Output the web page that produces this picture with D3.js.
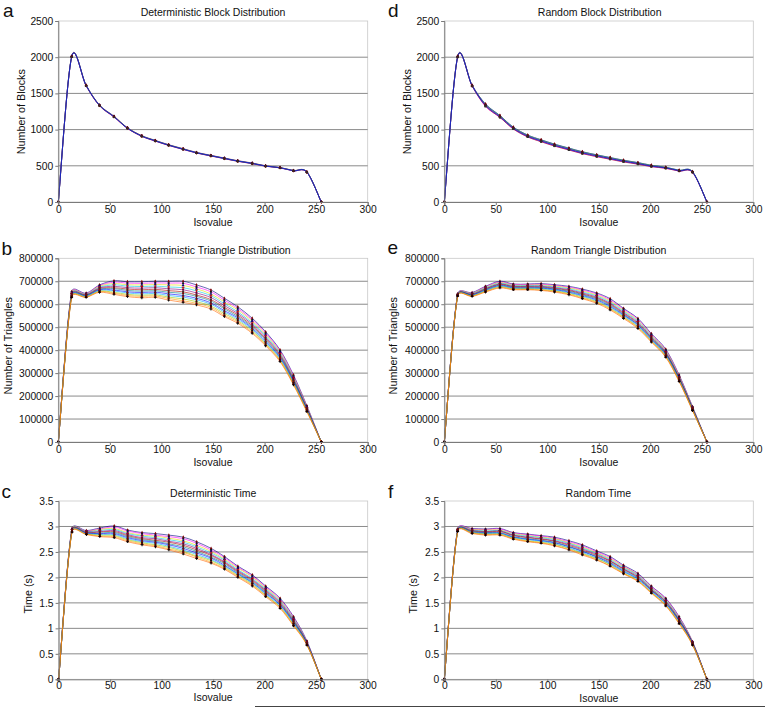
<!DOCTYPE html>
<html><head><meta charset="utf-8">
<script src="https://cdn.jsdelivr.net/npm/d3@7"></script>
<style>body{margin:0;background:#fff} svg text{font-family:"Liberation Sans",Arial,Helvetica,sans-serif;fill:#111}</style>
</head><body><svg id="chart" width="765" height="708"></svg>
<script>
// ---------------- data ----------------
const isovalues = [0,13,27,40,54,67,81,94,107,121,134,148,161,174,188,201,215,228,241,255];

const blockDet = [
 [0,2010,1610,1335,1180,1022,912,847,787,732,681,640,603,566,534,497,474,433,414,0],
 [0,2005,1605,1330,1175,1018,908,843,783,728,678,637,600,563,531,495,472,431,412,0],
 [0,2012,1613,1338,1184,1025,915,850,790,735,684,643,606,569,537,500,476,435,416,0],
 [0,2008,1608,1332,1178,1020,910,845,785,730,679,638,601,564,532,496,473,432,413,0],
 [0,2015,1615,1340,1186,1027,917,852,792,737,686,645,608,571,539,501,477,436,417,0],
 [0,2003,1603,1328,1173,1016,906,841,781,726,676,635,598,561,529,493,471,430,411,0],
 [0,2009,1611,1336,1182,1023,913,848,788,733,682,641,604,567,535,498,475,434,415,0],
 [0,2006,1607,1333,1177,1019,909,844,784,729,680,639,602,565,533,496,473,432,413,0]
];
const blockRand = [
 [0,2015,1615,1355,1195,1035,925,860,800,745,695,652,615,578,545,508,480,440,420,0],
 [0,2000,1600,1320,1170,1010,900,835,775,720,670,628,592,556,525,490,466,428,410,0],
 [0,2010,1610,1345,1188,1028,918,852,792,738,688,646,608,572,540,503,477,436,417,0],
 [0,2005,1605,1330,1175,1015,905,840,780,725,675,634,597,560,529,493,470,430,412,0],
 [0,2012,1612,1340,1182,1022,912,847,787,732,682,640,603,566,534,498,474,434,415,0],
 [0,2003,1602,1325,1168,1008,898,832,772,718,668,626,590,553,522,488,465,427,409,0],
 [0,2008,1608,1350,1192,1032,922,857,797,742,692,650,612,575,542,506,479,438,419,0],
 [0,2006,1606,1335,1178,1018,908,843,783,728,678,637,600,563,531,495,472,432,413,0]
];
const triDet = [
 [0,655000,648000,684000,702000,698000,698000,700000,700000,700000,684000,662000,626000,589000,539000,480000,401000,292000,158000,0],
 [0,652000,646000,681000,696000,692000,691000,693000,692000,691000,675000,654000,618000,582000,532000,474000,396000,288000,155000,0],
 [0,650000,644000,678000,690000,685000,684000,686000,684000,682000,667000,645000,610000,575000,526000,468000,391000,283000,153000,0],
 [0,647000,643000,674000,684000,679000,677000,679000,675000,672000,658000,637000,602000,567000,519000,462000,386000,279000,150000,0],
 [0,645000,641000,671000,678000,672000,670000,672000,667000,663000,649000,629000,594000,560000,513000,456000,381000,275000,148000,0],
 [0,642000,639000,668000,672000,666000,663000,665000,659000,654000,640000,620000,586000,553000,506000,450000,376000,270000,145000,0],
 [0,640000,638000,665000,668000,660000,657000,659000,652000,647000,634000,614000,580000,547000,501000,445000,371000,267000,143000,0],
 [0,638000,636000,663000,662000,654000,651000,653000,645000,638000,626000,606000,572000,541000,495000,439000,367000,263000,141000,0],
 [0,636000,635000,660000,658000,649000,645000,647000,638000,631000,619000,600000,566000,535000,490000,434000,363000,260000,139000,0],
 [0,634000,633000,657000,652000,643000,639000,641000,631000,623000,611000,592000,559000,529000,484000,429000,358000,256000,136000,0],
 [0,632000,631000,655000,648000,638000,634000,636000,625000,615000,604000,586000,552000,523000,478000,424000,354000,252000,134000,0],
 [0,630000,630000,652000,643000,633000,628000,630000,618000,608000,597000,579000,546000,517000,473000,419000,350000,249000,132000,0]
];
const triRand = [
 [0,645000,651000,678000,700000,688000,688000,690000,685000,678000,666000,649000,624000,582000,538000,472000,404000,292000,154000,0],
 [0,644000,649000,676000,697000,686000,686000,687000,682000,674000,662000,645000,619000,578000,534000,468000,400000,289000,152000,0],
 [0,643000,648000,673000,694000,683000,683000,684000,679000,671000,658000,640000,614000,573000,529000,465000,397000,286000,151000,0],
 [0,642000,646000,671000,691000,681000,681000,681000,675000,667000,653000,636000,609000,569000,525000,461000,393000,283000,149000,0],
 [0,641000,644000,668000,688000,678000,678000,678000,672000,663000,649000,631000,604000,564000,520000,457000,390000,280000,147000,0],
 [0,640000,642000,666000,686000,676000,676000,675000,669000,660000,645000,627000,600000,560000,516000,454000,387000,278000,146000,0],
 [0,640000,641000,664000,683000,674000,674000,673000,666000,657000,642000,623000,596000,556000,512000,451000,384000,275000,144000,0],
 [0,639000,640000,661000,681000,671000,671000,670000,664000,653000,638000,619000,591000,553000,509000,447000,381000,273000,143000,0],
 [0,638000,638000,659000,678000,669000,669000,668000,661000,650000,635000,615000,587000,549000,505000,444000,378000,270000,141000,0],
 [0,637000,637000,657000,676000,667000,667000,665000,658000,647000,631000,611000,583000,545000,501000,441000,375000,268000,140000,0],
 [0,637000,635000,655000,673000,665000,665000,662000,656000,644000,627000,608000,579000,542000,498000,438000,372000,265000,138000,0],
 [0,636000,634000,653000,671000,663000,663000,660000,653000,641000,624000,604000,575000,538000,494000,435000,369000,263000,137000,0]
];
const timeDet = [
 [0,2.96,2.92,2.97,3.01,2.93,2.88,2.86,2.83,2.79,2.70,2.57,2.41,2.22,2.05,1.83,1.59,1.23,0.75,0],
 [0,2.95,2.91,2.95,2.99,2.91,2.86,2.83,2.80,2.76,2.67,2.54,2.39,2.20,2.03,1.81,1.57,1.21,0.74,0],
 [0,2.95,2.90,2.94,2.96,2.88,2.83,2.81,2.77,2.72,2.63,2.51,2.36,2.18,2.01,1.79,1.55,1.19,0.73,0],
 [0,2.94,2.90,2.92,2.94,2.86,2.81,2.78,2.74,2.69,2.60,2.48,2.34,2.15,1.98,1.77,1.53,1.18,0.73,0],
 [0,2.93,2.89,2.90,2.92,2.84,2.78,2.76,2.71,2.66,2.57,2.45,2.31,2.13,1.96,1.75,1.51,1.16,0.72,0],
 [0,2.93,2.88,2.89,2.90,2.82,2.76,2.73,2.69,2.63,2.54,2.43,2.29,2.11,1.94,1.73,1.49,1.14,0.71,0],
 [0,2.92,2.87,2.87,2.88,2.80,2.74,2.71,2.66,2.60,2.51,2.40,2.27,2.09,1.92,1.71,1.47,1.13,0.70,0],
 [0,2.91,2.87,2.86,2.86,2.78,2.72,2.69,2.64,2.57,2.48,2.38,2.24,2.07,1.90,1.69,1.46,1.11,0.70,0],
 [0,2.91,2.86,2.84,2.84,2.76,2.70,2.67,2.61,2.54,2.45,2.35,2.22,2.06,1.89,1.67,1.44,1.10,0.69,0],
 [0,2.90,2.85,2.83,2.82,2.74,2.68,2.64,2.59,2.51,2.42,2.33,2.20,2.04,1.87,1.65,1.42,1.08,0.68,0],
 [0,2.90,2.85,2.81,2.80,2.72,2.66,2.62,2.56,2.49,2.40,2.30,2.18,2.02,1.85,1.64,1.41,1.06,0.68,0],
 [0,2.89,2.84,2.80,2.78,2.70,2.64,2.60,2.54,2.46,2.37,2.28,2.16,2.00,1.83,1.62,1.39,1.05,0.67,0]
];
const timeRand = [
 [0,2.95,2.96,2.95,2.96,2.88,2.85,2.82,2.79,2.72,2.64,2.52,2.41,2.24,2.08,1.83,1.59,1.23,0.74,0],
 [0,2.95,2.95,2.94,2.95,2.87,2.84,2.81,2.77,2.70,2.62,2.50,2.39,2.22,2.06,1.82,1.58,1.22,0.73,0],
 [0,2.94,2.94,2.93,2.93,2.86,2.82,2.79,2.76,2.68,2.60,2.48,2.37,2.21,2.05,1.80,1.56,1.20,0.73,0],
 [0,2.94,2.93,2.91,2.92,2.84,2.81,2.78,2.74,2.67,2.58,2.47,2.35,2.19,2.04,1.79,1.55,1.19,0.72,0],
 [0,2.93,2.92,2.90,2.91,2.83,2.79,2.76,2.72,2.65,2.56,2.45,2.33,2.17,2.02,1.77,1.53,1.17,0.72,0],
 [0,2.93,2.91,2.89,2.90,2.82,2.78,2.75,2.71,2.63,2.54,2.43,2.32,2.16,2.00,1.76,1.52,1.16,0.71,0],
 [0,2.92,2.90,2.88,2.88,2.80,2.76,2.73,2.69,2.61,2.52,2.41,2.30,2.14,1.99,1.75,1.50,1.15,0.70,0],
 [0,2.92,2.89,2.87,2.87,2.79,2.75,2.72,2.68,2.60,2.51,2.40,2.28,2.12,1.97,1.74,1.49,1.14,0.70,0],
 [0,2.92,2.88,2.86,2.86,2.78,2.74,2.71,2.66,2.58,2.49,2.38,2.26,2.11,1.96,1.72,1.48,1.12,0.69,0],
 [0,2.91,2.88,2.85,2.85,2.77,2.72,2.69,2.65,2.57,2.47,2.37,2.25,2.09,1.94,1.71,1.46,1.11,0.68,0],
 [0,2.91,2.87,2.84,2.84,2.76,2.71,2.68,2.63,2.55,2.46,2.35,2.23,2.08,1.93,1.70,1.45,1.10,0.68,0],
 [0,2.90,2.86,2.83,2.83,2.75,2.70,2.67,2.62,2.54,2.44,2.34,2.22,2.07,1.92,1.69,1.44,1.09,0.67,0]
];

const xTicks = [0,50,100,150,200,250,300];
const blockTicks = [0,500,1000,1500,2000,2500];
const triTicks = [0,100000,200000,300000,400000,500000,600000,700000,800000];
const timeTicks = [0,0.5,1,1.5,2,2.5,3,3.5];

const panelLetters = ["a","b","c","d","e","f"];
const panelTitles = ["Deterministic Block Distribution","Deterministic Triangle Distribution","Deterministic Time",
                     "Random Block Distribution","Random Triangle Distribution","Random Time"];
const yTitles = ["Number of Blocks","Number of Triangles","Time (s)","Number of Blocks","Number of Triangles","Time (s)"];
const xTitle = "Isovalue";

// ---------------- styling / layout ----------------
const lineColors = ["#000080","#ff00ff","#e8d800","#00c8e0","#800080","#b00000","#008080","#0000ff",
                    "#00a8ff","#99cc00","#ff9900","#ff6600","#666699","#cc3366","#339966","#000000"];
const markerColors = ["#800000","#1a1a1a","#000080","#c00000","#660033","#333333","#800000","#2a2a2a",
                      "#900000","#111111","#800000","#000000"];
const symbols = [d3.symbolDiamond,d3.symbolSquare,d3.symbolTriangle,d3.symbolCross,d3.symbolCircle,
                 d3.symbolSquare,d3.symbolDiamond,d3.symbolTriangle];

const layout = [
  {box:[58.3,21,367.7,202],    letter:[3,17],     title:[213,16],     ytl:[25,111.7],   xtl:226,   tky:4},
  {box:[58.3,258.3,367.7,442], letter:[1.5,255],  title:[212.5,253.5],ytl:[11.5,345.8], xtl:466,   tky:4},
  {box:[58.6,501,367.7,679.3], letter:[1.5,498],  title:[213.3,497],  ytl:[32,594],     xtl:701,   tky:2},
  {box:[444.3,21,753.3,202],   letter:[388,17],   title:[599.7,16],   ytl:[411,111.7],  xtl:226,   tky:4},
  {box:[444.3,258.3,753.3,442],letter:[387.5,254],title:[598.7,253.5],ytl:[396.5,345.8],xtl:466,   tky:4},
  {box:[444.3,501,753.3,679.3],letter:[388,498],  title:[598.3,497],  ytl:[417,594],    xtl:701.5, tky:2}
];
const panelData = [blockDet,triDet,timeDet,blockRand,triRand,timeRand];
const panelTicks = [blockTicks,triTicks,timeTicks,blockTicks,triTicks,timeTicks];

// Spreadsheet-style smoothed line: cubic Bezier through every point, tangent (P[i+1]-P[i-1])/6,
// with the control arm limited to half the current segment's length.
function SmoothCurve(context){ this._context = context; }
SmoothCurve.prototype = {
  areaStart(){}, areaEnd(){},
  lineStart(){ this._pts = []; },
  point(x,y){ this._pts.push([+x,+y]); },
  lineEnd(){
    const p = this._pts, n = p.length, c = this._context;
    if(!n) return;
    c.moveTo(p[0][0],p[0][1]);
    for(let i=0;i<n-1;i++){
      const p0=p[Math.max(i-1,0)], p1=p[i], p2=p[i+1], p3=p[Math.min(i+2,n-1)];
      const seg = Math.hypot(p2[0]-p1[0],p2[1]-p1[1]), m = 0.5*seg;
      let a=[(p2[0]-p0[0])/6,(p2[1]-p0[1])/6], b=[(p3[0]-p1[0])/6,(p3[1]-p1[1])/6];
      const la=Math.hypot(a[0],a[1]), lb=Math.hypot(b[0],b[1]);
      if(la>m) a=[a[0]*m/la,a[1]*m/la];
      if(lb>m) b=[b[0]*m/lb,b[1]*m/lb];
      c.bezierCurveTo(p1[0]+a[0],p1[1]+a[1],p2[0]-b[0],p2[1]-b[1],p2[0],p2[1]);
    }
  }
};
const curveSmooth = ctx => new SmoothCurve(ctx);

const svg = d3.select("#chart");

panelData.forEach((series,pi)=>{
  const L = layout[pi];
  const [x0,y0,x1,y1] = L.box;
  const ticks = panelTicks[pi];
  const x = d3.scaleLinear().domain([0,300]).range([x0,x1]);
  const y = d3.scaleLinear().domain([0,d3.max(ticks)]).range([y1,y0]);
  const g = svg.append("g");

  g.append("rect").attr("x",x0).attr("y",y0).attr("width",x1-x0).attr("height",y1-y0)
    .attr("fill","none").attr("stroke","#c8c8c8").attr("stroke-width",0.8);
  g.append("g").selectAll("line").data(ticks.filter(t=>t>0 && t<d3.max(ticks))).join("line")
    .attr("x1",x0).attr("x2",x1).attr("y1",d=>y(d)).attr("y2",d=>y(d))
    .attr("stroke","#8a8a8a").attr("stroke-width",1);

  const line = d3.line().x((d,i)=>x(isovalues[i])).y(d=>y(d)).curve(curveSmooth);
  series.forEach((s,si)=>{
    g.append("path").attr("d",line(s)).attr("fill","none")
      .attr("stroke",lineColors[si % lineColors.length]).attr("stroke-width",0.7).attr("opacity",0.85);
  });
  series.forEach((s,si)=>{
    g.append("g").selectAll("path").data(s).join("path")
      .attr("transform",(d,i)=>`translate(${x(isovalues[i])},${y(d)})`)
      .attr("d",d3.symbol().type(symbols[si % symbols.length]).size(4))
      .attr("fill",markerColors[si % markerColors.length]);
  });

  const xa = g.append("g").attr("transform",`translate(0,${y1})`)
    .call(d3.axisBottom(x).tickValues(xTicks).tickSize(3).tickFormat(d=>String(d)));
  const ya = g.append("g").attr("transform",`translate(${x0},0)`)
    .call(d3.axisLeft(y).tickValues(ticks).tickSize(3).tickFormat(d=>String(d)));
  [xa,ya].forEach(a=>{
    a.select(".domain").attr("stroke","#7a7a7a");
    a.selectAll(".tick line").attr("stroke","#7a7a7a");
    a.selectAll("text").attr("font-size","10.3px").attr("fill","#111");
  });
  xa.selectAll(".tick text").attr("y",L.tky).attr("dy","0.71em");
  ya.selectAll(".tick text").attr("x",-5);

  svg.append("text").attr("x",L.title[0]).attr("y",L.title[1]).attr("text-anchor","middle")
    .attr("font-size","10.5px").text(panelTitles[pi]);
  svg.append("text").attr("x",(x0+x1)/2).attr("y",L.xtl).attr("text-anchor","middle")
    .attr("font-size","10.5px").text(xTitle);
  svg.append("text").attr("transform",`translate(${L.ytl[0]},${L.ytl[1]}) rotate(-90)`)
    .attr("text-anchor","middle").attr("font-size","10.8px").text(yTitles[pi]);
  svg.append("text").attr("x",L.letter[0]).attr("y",L.letter[1])
    .attr("font-size","19px").text(panelLetters[pi]);
});

svg.append("line").attr("x1",255).attr("x2",765).attr("y1",706.5).attr("y2",706.5)
  .attr("stroke","#444").attr("stroke-width",1);
</script>
</body></html>
